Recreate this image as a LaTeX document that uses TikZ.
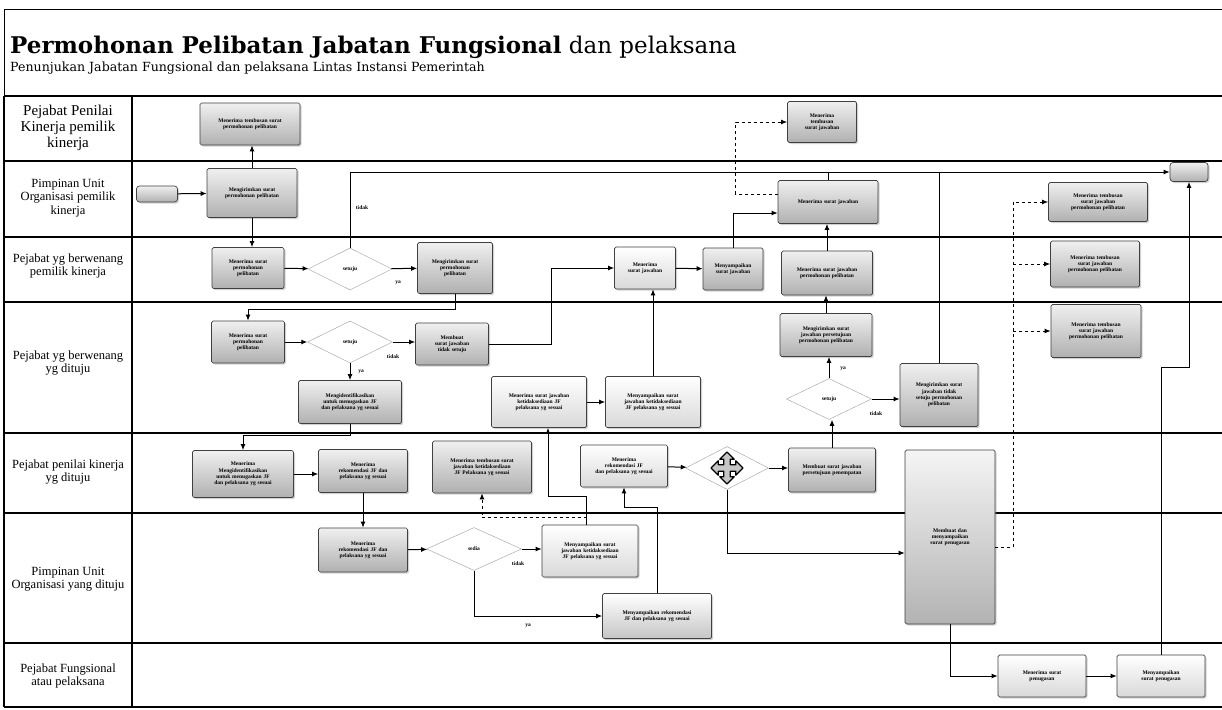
\documentclass[tikz,border=0pt]{standalone}
\usepackage{fontspec}
\setmainfont{Liberation Serif}
\newfontfamily\titlefont{DejaVu Serif}
\usetikzlibrary{shapes.geometric,shadows,arrows.meta,calc}
\newcommand\nohyph{\hyphenpenalty=10000\relax\exhyphenpenalty=10000\relax}
\tikzset{
  lanel/.style={line width=1.3pt},
  bx/.style={draw=black!75, line width=0.7pt, rounded corners=1.5pt,
    top color=gray!12, bottom color=gray!62,
    drop shadow={opacity=0.35, shadow xshift=1.5pt, shadow yshift=-1.5pt},
    font=\fontsize{5.5}{6.3}\selectfont\bfseries\nohyph, align=center, inner sep=1.5pt},
  lt/.style={bx, top color=white, bottom color=gray!30},
  sz/.code 2 args={\pgfmathsetlengthmacro\mytw{0.68*#1pt}%
    \edef\mytmp{\noexpand\tikzset{minimum width=#1pt,minimum height=#2pt,text width=\mytw}}\mytmp},
  dm/.style={diamond, draw=gray!65, line width=0.5pt, fill=white, inner sep=0pt,
    font=\fontsize{5.5}{6.5}\selectfont\bfseries},
  arr/.style={-{Latex[length=6pt,width=5pt]}, line width=1pt},
  ln/.style={line width=1pt},
  lbl/.style={font=\fontsize{5.5}{6.5}\selectfont\bfseries, inner sep=0pt},
  lanetxt/.style={font=\fontsize{12.5}{13.5}\selectfont, align=center, inner sep=0pt}
}
\begin{document}
\begin{tikzpicture}[x=1pt,y=-1pt]
\useasboundingbox[fill=white] (0,0) rectangle (1222,709);
% frame and title
\draw[line width=0.6pt] (4,96) -- (4,9) -- (1222,9);
\node[anchor=base west, inner sep=0pt, font=\titlefont\fontsize{23}{26}\selectfont] (title) at (10,53)
  {\textbf{Permohonan Pelibatan Jabatan Fungsional} dan pelaksana};
\node[anchor=base west, inner sep=0pt, font=\titlefont\fontsize{12.6}{14}\selectfont] (subtitle) at (10,71)
  {Penunjukan Jabatan Fungsional dan pelaksana Lintas Instansi Pemerintah};
% lanes
\foreach \yy in {96,161,237,302,433,513,643,707} {\draw[lanel] (4,\yy) -- (1222,\yy);}
\draw[lanel] (4,96) -- (4,707);
\draw[lanel] (132,96) -- (132,707);
\node[lanetxt, font=\fontsize{15}{16}\selectfont] (l1) at (68,128) {Pejabat Penilai\\Kinerja pemilik\\kinerja};
\node[lanetxt] (l2) at (68,198) {Pimpinan Unit\\Organisasi pemilik\\kinerja};
\node[lanetxt] (l3) at (68,266) {Pejabat yg berwenang\\pemilik kinerja};
\node[lanetxt] (l4) at (68,363) {Pejabat yg berwenang\\yg dituju};
\node[lanetxt] (l5) at (68,472) {Pejabat penilai kinerja\\yg dituju};
\node[lanetxt] (l6) at (68,579) {Pimpinan Unit\\Organisasi yang dituju};
\node[lanetxt] (l7) at (68,676) {Pejabat Fungsional\\atau pelaksana};
% nodes
\node[bx,sz={100}{42}] (ppk1) at (250,124) {Menerima tembusan surat permohonan pelibatan};
\node[bx,rounded corners=3pt,minimum width=41pt,minimum height=16pt] (start) at (157,194) {};
\node[bx,sz={90}{49}] (pu1) at (252,193) {Mengirimkan surat permohonan pelibatan};
\node[bx,sz={72}{41}] (bp1) at (248,268) {Menerima surat permohonan pelibatan};
\node[dm,minimum width=84pt,minimum height=42pt] (d1) at (350,269) {setuju};
\node[bx,sz={75}{51}] (bp2) at (455,268) {Mengirimkan surat permohonan pelibatan};
\node[bx,sz={73}{42}] (dt1) at (248,342) {Menerima surat permohonan pelibatan};
\node[dm,minimum width=85pt,minimum height=42pt] (d2) at (350,342) {setuju};
\node[bx,sz={73}{42}] (dt2) at (452,344) {Membuat surat jawaban tidak setuju};
\node[bx,sz={103}{43}] (dt3) at (350,402) {Mengidentifikasikan untuk menugaskan JF dan pelaksana yg sesuai};
\node[bx,sz={101}{47}] (pk1) at (243,474) {Menerima Mengidentifikasikan untuk menugaskan JF dan pelaksana yg sesuai};
\node[bx,sz={89}{43}] (pk2) at (363,471) {Menerima rekomendasi JF dan pelaksana yg sesuai};
\node[bx,sz={99}{52}] (pk3) at (482,467) {Menerima tembusan surat jawaban ketidaksediaan JF Pelaksana yg sesuai};
\node[bx,sz={89}{44}] (pud1) at (363,550) {Menerima rekomendasi JF dan pelaksana yg sesuai};
\node[dm,minimum width=95pt,minimum height=43pt] (d3) at (474,549) {sedia};
\node[lt,sz={96}{52}] (pud2) at (590,551) {Menyampaikan surat jawaban ketidaksediaan JF pelaksana yg sesuai};
\node[lt,bottom color=gray!45,sz={109}{45}] (pud3) at (657,616) {Menyampaikan rekomendasi JF dan pelaksana yg sesuai};
\node[lt,sz={87}{42}] (pk4) at (624,466) {Menerima rekomendasi JF dan pelaksana yg sesuai};
\node[dm,minimum width=83pt,minimum height=43pt] (d4) at (727,468) {};
\node[bx,sz={87}{44}] (pk5) at (832,470) {Membuat surat jawaban persetujuan penempatan};
\node[lt,sz={95}{51}] (dt4) at (539,402) {Menerima surat jawaban ketidaksediaan JF pelaksana yg sesuai};
\node[lt,sz={95}{51}] (dt5) at (653,402) {Menyampaikan surat jawaban ketidaksediaan JF pelaksana yg sesuai};
\node[lt,sz={61}{42}] (bp3) at (645,268) {Menerima surat jawaban};
\node[bx,sz={60}{42}] (bp4) at (733,269) {Menyampaikan surat jawaban};
\node[bx,sz={91}{44}] (bp5) at (827,273) {Menerima surat jawaban permohonan pelibatan};
\node[bx,sz={100}{43}] (pu2) at (828,202) {Menerima surat jawaban};
\node[bx,sz={69}{41}] (ppk2) at (822,122) {Menerima tembusan surat jawaban};
\node[bx,sz={92}{43}] (dt6) at (826,335) {Mengirimkan surat jawaban persetujuan permohonan pelibatan};
\node[dm,minimum width=85pt,minimum height=41pt] (d5) at (829,399) {setuju};
\node[bx,sz={78}{63}] (dt7) at (939,395) {Mengirimkan surat jawaban tidak setuju permohonan pelibatan};
\node[bx,sz={99}{39}] (r1) at (1098,202) {Menerima tembusan surat jawaban permohonan pelibatan};
\node[bx,sz={89}{46}] (r2) at (1095,264) {Menerima tembusan surat jawaban permohonan pelibatan};
\node[bx,sz={90}{53}] (r3) at (1096,331) {Menerima tembusan surat jawaban permohonan pelibatan};
\node[bx,top color=gray!8,bottom color=gray!60,sz={90}{174}] (big) at (950,537) {Membuat dan menyampaikan surat penugasan};
\node[lt,sz={88}{42}] (f1) at (1042,676) {Menerima surat penugasan};
\node[lt,sz={88}{42}] (f2) at (1161,676) {Menyampaikan surat penugasan};
\node[bx,rounded corners=3pt,minimum width=38pt,minimum height=19pt] (endn) at (1189,172) {};
% move icon in d4
\begin{scope}[shift={(d4.center)}, scale=16]
\draw[fill=gray!45, line width=1.3pt, line join=round]
 (0,1) -- (0.45,0.55) -- (0.2,0.55) -- (0.2,0.2) -- (0.55,0.2) -- (0.55,0.45) -- (1,0)
 -- (0.55,-0.45) -- (0.55,-0.2) -- (0.2,-0.2) -- (0.2,-0.55) -- (0.45,-0.55) -- (0,-1)
 -- (-0.45,-0.55) -- (-0.2,-0.55) -- (-0.2,-0.2) -- (-0.55,-0.2) -- (-0.55,-0.45) -- (-1,0)
 -- (-0.55,0.45) -- (-0.55,0.2) -- (-0.2,0.2) -- (-0.2,0.55) -- (-0.45,0.55) -- cycle;
\end{scope}
% connectors
\draw[arr] (start) -- (pu1);
\draw[arr] (pu1.north) -- (pu1.north |- ppk1.south);
\draw[arr] (pu1.south) -- (pu1.south |- bp1.north);
\draw[arr] (bp1) -- (d1);
\draw[arr] (d1) -- (bp2);
\draw[arr] (d1.north) |- (endn.west);
\draw[ln] (pu2.north) -- (pu2.north |- endn.west);
\draw[ln] (dt7.north) -- (dt7.north |- endn.west);
\draw[arr] (bp2.south) -- ++(0,16) -| (dt1.north);
\draw[arr] (dt1) -- (d2);
\draw[arr] (d2) -- (d2 -| dt2.west);
\draw[arr] (d2.south) -- (d2.south |- dt3.north);
\draw[arr] (dt2.east) -- ++(63,0) |- (bp3.west);
\draw[arr] (dt3.south) -- ++(0,12) -| (pk1.north);
\draw[arr] (pk1) -- (pk1 -| pk2.west);
\draw[arr] (pk2.south) -- (pk2.south |- pud1.north);
\draw[arr] (pud1) -- (d3);
\draw[arr] (d3) -- (d3 -| pud2.west);
\draw[arr] (d3.south) |- (pud3.west);
\draw[arr, dashed] ([xshift=-4pt]pud2.north) -- ++(0,-7) -| (pk3.south);
\draw[arr] ([xshift=-4pt]pud2.north) -- ++(0,-28) -| ([xshift=9pt]dt4.south);
\draw[arr] (dt4) -- (dt5);
\draw[arr] (dt5.north) -- (dt5.north |- bp3.south);
\draw[arr] (bp3) -- (bp4);
\draw[arr] (bp4.north) |- ([yshift=-11pt]pu2.west);
\draw[arr] (bp5.north) -- (bp5.north |- pu2.south);
\draw[arr, dashed] ([yshift=8pt]pu2.west) -- ++(-42,0) |- (ppk2.west);
\draw[arr] (dt6.north) -- (dt6.north |- bp5.south);
\draw[arr] (d5.north) -- (d5.north |- dt6.south);
\draw[arr] (d5.east) -- (d5.east -| dt7.west);
\draw[arr] (pk5.north) -- (pk5.north |- d5.south);
\draw[arr] (pk4) -- (d4);
\draw[arr] (d4) -- (d4 -| pk5.west);
\draw[arr] (d4.south) |- ([yshift=-16pt]big.west);
\draw[arr] (pud3.north) -- ++(0,-86) -| (pk4.south);
\draw[arr] (big.south) |- (f1.west);
\draw[arr] (f1) -- (f2);
\draw[arr] (f2.north) -- ++(0,-287) -| (endn.south);
\draw[ln, dashed] ([yshift=-10pt]big.east) -- ++(18,0) coordinate (dv);
\draw[arr, dashed] (dv) |- (r1.west);
\draw[arr, dashed] (dv |- r2.west) -- (r2.west);
\draw[arr, dashed] (dv |- r3.west) -- (r3.west);
% labels
\node[lbl] (t1) at (362,208) {tidak};
\node[lbl] (y1) at (398,283) {ya};
\node[lbl] (t2) at (393,357) {tidak};
\node[lbl] (y2) at (361,372) {ya};
\node[lbl] (t3) at (518,564) {tidak};
\node[lbl] (y3) at (528,626) {ya};
\node[lbl] (y4) at (843,369) {ya};
\node[lbl] (t4) at (876,414) {tidak};
\end{tikzpicture}
\end{document}
